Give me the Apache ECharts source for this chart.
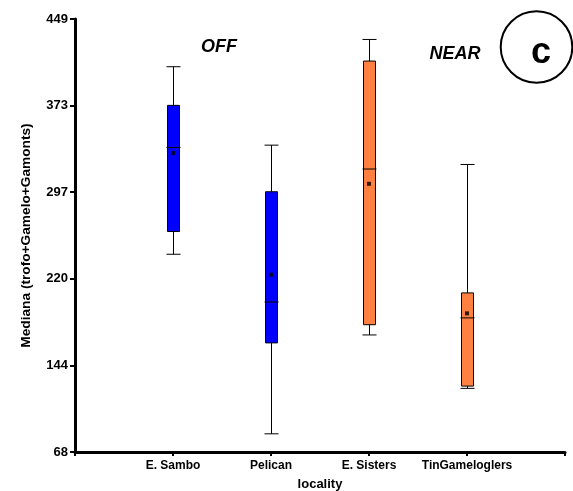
<!DOCTYPE html>
<html>
<head>
<meta charset="utf-8">
<script src="https://cdn.jsdelivr.net/npm/echarts@6/dist/echarts.min.js"></script>
<style>
html,body{margin:0;padding:0;background:#fff;}
#chart{width:573px;height:491px;}
</style>
</head>
<body>
<div id="chart"></div>
<script>
const categories = ['E. Sambo', 'Pelican', 'E. Sisters', 'TinGameloglers'];
const groups = ['OFF', 'OFF', 'NEAR', 'NEAR'];
const whiskerMin = [242, 84, 171, 124];
const q1 = [262, 164, 180, 126];
const median = [336, 200, 317, 186];
const q3 = [373, 297, 412, 208];
const whiskerMax = [407, 338, 431, 321];
const mean = [331, 224, 304, 190];
const yMin = 68, yMax = 449;
const groupColors = { OFF: '#0000ff', NEAR: '#ff8040' };

const axisCats = [''].concat(categories, ['']);
const boxData = categories.map((c, i) => [i + 1, whiskerMin[i], q1[i], median[i], q3[i], whiskerMax[i], i]);
const meanData = categories.map((c, i) => [i + 1, mean[i]]);

const chart = echarts.init(document.getElementById('chart'));
const F = 'Liberation Sans, Arial, sans-serif';
chart.setOption({
  animation: false,
  grid: { left: 75, right: 8, top: 19, bottom: 39, containLabel: false, outerBoundsMode: 'none' },
  xAxis: {
    type: 'category', data: axisCats, boundaryGap: false,
    name: 'locality', nameLocation: 'middle', nameGap: 26,
    nameTextStyle: { fontFamily: F, fontWeight: 'bold', fontSize: 13, color: '#000' },
    axisLine: { lineStyle: { color: '#000', width: 3 } },
    axisTick: { show: true, length: 4, lineStyle: { color: '#000', width: 2 }, interval: 0 },
    axisLabel: { interval: 0, margin: 8, fontFamily: F, fontWeight: 'bold', fontSize: 12, color: '#000' },
    splitLine: { show: false }
  },
  yAxis: {
    type: 'value', min: yMin, max: yMax, interval: (yMax - yMin) / 5,
    name: 'Mediana (trofo+Gamelo+Gamonts)', nameLocation: 'middle', nameGap: 42,
    nameTextStyle: { fontFamily: F, fontWeight: 'bold', fontSize: 13.7, color: '#000' },
    axisLine: { show: true, lineStyle: { color: '#000', width: 3 } },
    axisTick: { show: true, length: 5, lineStyle: { color: '#000', width: 2 } },
    axisLabel: { margin: 7, fontFamily: F, fontWeight: 'bold', fontSize: 13, color: '#000',
      formatter: v => String(Math.round(v)) },
    splitLine: { show: false }
  },
  series: [
    {
      type: 'custom',
      data: boxData,
      encode: { x: 0, y: [1, 2, 3, 4, 5] },
      renderItem: function (params, api) {
        const x = api.value(0);
        const idx = api.value(6);
        const pMin = api.coord([x, api.value(1)]);
        const pQ1 = api.coord([x, api.value(2)]);
        const pMed = api.coord([x, api.value(3)]);
        const pQ3 = api.coord([x, api.value(4)]);
        const pMax = api.coord([x, api.value(5)]);
        const cx = Math.round(pMin[0]) + 0.5;
        const bw = 12, cw = 14;
        const st = { stroke: '#000', lineWidth: 1, fill: null };
        return {
          type: 'group',
          children: [
            { type: 'line', shape: { x1: cx, y1: pMax[1], x2: cx, y2: pQ3[1] }, style: st },
            { type: 'line', shape: { x1: cx, y1: pQ1[1], x2: cx, y2: pMin[1] }, style: st },
            { type: 'line', shape: { x1: cx - cw / 2, y1: pMax[1], x2: cx + cw / 2, y2: pMax[1] }, style: st },
            { type: 'line', shape: { x1: cx - cw / 2, y1: pMin[1], x2: cx + cw / 2, y2: pMin[1] }, style: st },
            { type: 'rect', shape: { x: cx - bw / 2, y: pQ3[1], width: bw, height: pQ1[1] - pQ3[1] },
              style: { fill: groupColors[groups[idx]], stroke: '#000', lineWidth: 1 } },
            { type: 'line', shape: { x1: cx - cw / 2, y1: pMed[1], x2: cx + cw / 2, y2: pMed[1] }, style: st }
          ]
        };
      },
      z: 2
    },
    {
      type: 'scatter',
      data: meanData,
      symbol: 'rect',
      symbolSize: 4,
      itemStyle: { color: '#000' },
      z: 3
    }
  ],
  graphic: [
    { type: 'text', x: 219, y: 47, style: { text: 'OFF', font: 'italic bold 18px Liberation Sans, Arial, sans-serif', fill: '#000', align: 'center', verticalAlign: 'middle' } },
    { type: 'text', x: 455, y: 54, style: { text: 'NEAR', font: 'italic bold 18px Liberation Sans, Arial, sans-serif', fill: '#000', align: 'center', verticalAlign: 'middle' } },
    { type: 'circle', shape: { cx: 536.5, cy: 47, r: 35.8 }, style: { fill: '#fff', stroke: '#000', lineWidth: 2 } },
    { type: 'text', x: 541, y: 53, style: { text: 'c', font: 'bold 36px Liberation Sans, Arial, sans-serif', fill: '#000', align: 'center', verticalAlign: 'middle' }, z: 10 }
  ]
});
</script>
</body>
</html>
